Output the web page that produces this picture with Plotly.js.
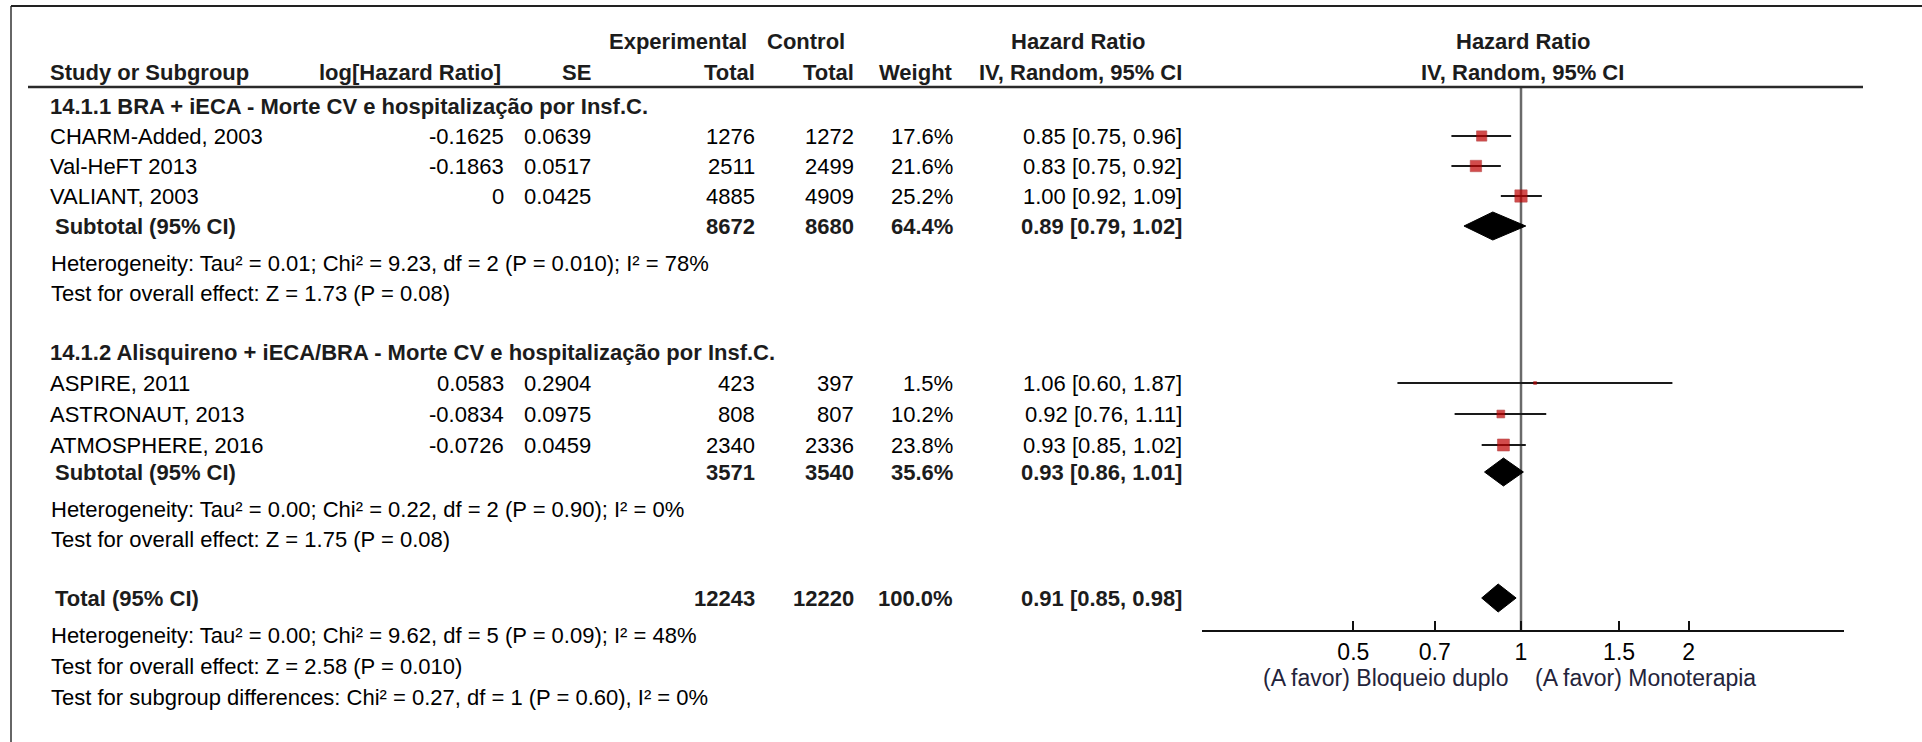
<!DOCTYPE html>
<html><head><meta charset="utf-8">
<script src="https://cdn.plot.ly/plotly-3.0.1.min.js"></script>
<style>html,body{margin:0;padding:0;background:#fff;overflow:hidden}#chart{width:1922px;height:742px}</style>
</head><body><div id="chart"></div>
<script>
// ---------------- DATA ----------------
const groupNames = [
  "14.1.1 BRA + iECA - Morte CV e hospitalização por Insf.C.",
  "14.1.2 Alisquireno + iECA/BRA - Morte CV e hospitalização por Insf.C."
];
const studies = ["CHARM-Added, 2003", "Val-HeFT 2013", "VALIANT, 2003", "ASPIRE, 2011", "ASTRONAUT, 2013", "ATMOSPHERE, 2016"];
const studyGroup = [0, 0, 0, 1, 1, 1];
const logHR = [-0.1625, -0.1863, 0, 0.0583, -0.0834, -0.0726];
const seLogHR = [0.0639, 0.0517, 0.0425, 0.2904, 0.0975, 0.0459];
const expTotal = [1276, 2511, 4885, 423, 808, 2340];
const ctrlTotal = [1272, 2499, 4909, 397, 807, 2336];
const weightPct = [17.6, 21.6, 25.2, 1.5, 10.2, 23.8];
const hazardRatio = [0.85, 0.83, 1.00, 1.06, 0.92, 0.93];
const ciLow = [0.75, 0.75, 0.92, 0.60, 0.76, 0.85];
const ciHigh = [0.96, 0.92, 1.09, 1.87, 1.11, 1.02];

const subExp = [8672, 3571];
const subCtrl = [8680, 3540];
const subWeight = [64.4, 35.6];
const subHR = [0.89, 0.93];
const subLow = [0.79, 0.86];
const subHigh = [1.02, 1.01];
const subHet = [
  "Heterogeneity: Tau² = 0.01; Chi² = 9.23, df = 2 (P = 0.010); I² = 78%",
  "Heterogeneity: Tau² = 0.00; Chi² = 0.22, df = 2 (P = 0.90); I² = 0%"
];
const subTest = [
  "Test for overall effect: Z = 1.73 (P = 0.08)",
  "Test for overall effect: Z = 1.75 (P = 0.08)"
];

const totalExp = 12243;
const totalCtrl = 12220;
const totalWeight = 100.0;
const totalHR = 0.91;
const totalLow = 0.85;
const totalHigh = 0.98;
const totalHet = "Heterogeneity: Tau² = 0.00; Chi² = 9.62, df = 5 (P = 0.09); I² = 48%";
const totalTest = "Test for overall effect: Z = 2.58 (P = 0.010)";
const subgroupTest = "Test for subgroup differences: Chi² = 0.27, df = 1 (P = 0.60), I² = 0%";

const tickValues = [0.5, 0.7, 1, 1.5, 2];
const tickLabels = ["0.5", "0.7", "1", "1.5", "2"];
const favourLeft = "(A favor) Bloqueio duplo";
const favourRight = "(A favor) Monoterapia";

// ---------------- LAYOUT / STYLE ----------------
const W = 1922, H = 742;
const FONT = "Liberation Sans, Arial, Helvetica, sans-serif";
const FS = 22;
const TXT = "#000000", BOLD = "#1c1c1c";
const COL = {name: 48, sub: 53, logHR: 506, logHRHead: 503, se: 593, exp: 757, ctrl: 856, weight: 955, ci: 1184, hrHead: 1078};
const HEAD1_Y = 41, HEAD2_Y = 72, RULE_Y = 87, AXIS_Y = 631;
const FIRST_GROUP_Y = 106, PITCH = 30, STAT_GAP = 37, BLOCK_GAP = 59;
const DIAMOND_HALF = 14;
const PLOT_X0 = 1201.5, PLOT_X1 = 1843.5;
const LOG_RANGE = [-0.5736, 0.5790];

const ann = [];
function txt(s, x, y, anchor, bold) {
  ann.push({text: bold ? "<b>" + s + "</b>" : s, x: x / W, xref: "paper", y: y, yref: "y",
    xanchor: anchor, yanchor: "middle", showarrow: false,
    font: {family: FONT, size: FS, color: bold ? BOLD : TXT}});
}
const fmtLog = v => v === 0 ? "0" : v.toFixed(4);
const fmtCI = (h, l, u) => h.toFixed(2) + " [" + l.toFixed(2) + ", " + u.toFixed(2) + "]";

// headers
txt("Experimental", 749, HEAD1_Y, "right", true);
txt("Control", 847, HEAD1_Y, "right", true);
txt("Hazard Ratio", COL.hrHead, HEAD1_Y, "center", true);
txt("Study or Subgroup", COL.name, HEAD2_Y, "left", true);
txt("log[Hazard Ratio]", COL.logHRHead, HEAD2_Y, "right", true);
txt("SE", COL.se, HEAD2_Y, "right", true);
txt("Total", COL.exp, HEAD2_Y, "right", true);
txt("Total", COL.ctrl, HEAD2_Y, "right", true);
txt("Weight", COL.weight, HEAD2_Y, "right", true);
txt("IV, Random, 95% CI", COL.ci, HEAD2_Y, "right", true);
ann.push({text: "<b>Hazard Ratio</b>", xref: "x domain", x: 0.5, y: HEAD1_Y, yref: "y", xanchor: "center", yanchor: "middle", showarrow: false, font: {family: FONT, size: FS, color: BOLD}});
ann.push({text: "<b>IV, Random, 95% CI</b>", xref: "x domain", x: 0.5, y: HEAD2_Y, yref: "y", xanchor: "center", yanchor: "middle", showarrow: false, font: {family: FONT, size: FS, color: BOLD}});

// rows
const studyY = new Array(studies.length);
const subY = [];
let cur = FIRST_GROUP_Y;
groupNames.forEach((g, gi) => {
  txt(g, COL.name, cur, "left", true);
  let y = cur;
  studies.forEach((s, i) => {
    if (studyGroup[i] !== gi) return;
    y += PITCH + (gi === 1 ? 1 : 0);
    studyY[i] = y;
    txt(s, COL.name, y, "left", false);
    txt(fmtLog(logHR[i]), COL.logHR, y, "right", false);
    txt(seLogHR[i].toFixed(4), COL.se, y, "right", false);
    txt(String(expTotal[i]), COL.exp, y, "right", false);
    txt(String(ctrlTotal[i]), COL.ctrl, y, "right", false);
    txt(weightPct[i].toFixed(1) + "%", COL.weight, y, "right", false);
    txt(fmtCI(hazardRatio[i], ciLow[i], ciHigh[i]), COL.ci, y, "right", false);
  });
  y += PITCH - (gi === 1 ? 3 : 0);
  subY[gi] = y;
  txt("Subtotal (95% CI)", COL.sub, y, "left", true);
  txt(String(subExp[gi]), COL.exp, y, "right", true);
  txt(String(subCtrl[gi]), COL.ctrl, y, "right", true);
  txt(subWeight[gi].toFixed(1) + "%", COL.weight, y, "right", true);
  txt(fmtCI(subHR[gi], subLow[gi], subHigh[gi]), COL.ci, y, "right", true);
  y += STAT_GAP;
  txt(subHet[gi], COL.name + 1, y, "left", false);
  y += PITCH;
  txt(subTest[gi], COL.name + 1, y, "left", false);
  cur = y + BLOCK_GAP;
});
const totalY = cur;
txt("Total (95% CI)", COL.sub, totalY, "left", true);
txt(String(totalExp), COL.exp, totalY, "right", true);
txt(String(totalCtrl), COL.ctrl, totalY, "right", true);
txt(totalWeight.toFixed(1) + "%", COL.weight, totalY, "right", true);
txt(fmtCI(totalHR, totalLow, totalHigh), COL.ci, totalY, "right", true);
txt(totalHet, COL.name + 1, totalY + STAT_GAP, "left", false);
txt(totalTest, COL.name + 1, totalY + STAT_GAP + PITCH + 1, "left", false);
txt(subgroupTest, COL.name + 1, totalY + STAT_GAP + 2 * (PITCH + 1), "left", false);

// favour labels tied to null line
const FAV_FONT = {family: FONT, size: 23, color: "#23233a"};
ann.push({text: favourLeft, xref: "x", x: 0, xshift: -10, y: 678, yref: "y", xanchor: "right", yanchor: "middle", showarrow: false, font: FAV_FONT});
ann.push({text: favourRight, xref: "x", x: 0, xshift: 12, y: 678, yref: "y", xanchor: "left", yanchor: "middle", showarrow: false, font: FAV_FONT});

// ---------------- TRACES ----------------
const ciX = [], ciY = [];
studies.forEach((s, i) => { ciX.push(ciLow[i], ciHigh[i], null); ciY.push(studyY[i], studyY[i], null); });
const traces = [];
traces.push({type: "scatter", mode: "lines", x: ciX, y: ciY, line: {color: "#1a1a1a", width: 2}, hoverinfo: "skip", showlegend: false});
traces.push({type: "scatter", mode: "markers", x: hazardRatio, y: studyY,
  marker: {symbol: "square", size: weightPct.map(w => 2.45 * Math.sqrt(w)), color: "#c00000", line: {color: "#9a0000", width: 0.6}},
  hoverinfo: "skip", showlegend: false});
function diamond(h, l, u, y) {
  traces.push({type: "scatter", mode: "lines", x: [l, h, u, h, l], y: [y, y - DIAMOND_HALF, y, y + DIAMOND_HALF, y],
    fill: "toself", fillcolor: "#000", line: {color: "#000", width: 1}, hoverinfo: "skip", showlegend: false});
}
subHR.forEach((h, gi) => diamond(h, subLow[gi], subHigh[gi], subY[gi]));
diamond(totalHR, totalLow, totalHigh, totalY);

// ---------------- SHAPES ----------------
const shapes = [
  {type: "line", xref: "paper", yref: "y", x0: 11 / W, x1: 11 / W, y0: 6, y1: H, line: {color: "#333", width: 1.5}},
  {type: "line", xref: "paper", yref: "y", x0: 11 / W, x1: 1, y0: 6, y1: 6, line: {color: "#222", width: 2}},
  {type: "line", xref: "paper", yref: "y", x0: 28 / W, x1: 1863 / W, y0: RULE_Y, y1: RULE_Y, line: {color: "#2a2a2a", width: 2.5}},
  {type: "line", xref: "x", yref: "y", x0: 1, x1: 1, y0: RULE_Y, y1: AXIS_Y, line: {color: "#6a6a6a", width: 2.5}, layer: "below"}
];

const layout = {
  width: W, height: H, margin: {l: 0, r: 0, t: 0, b: 0},
  paper_bgcolor: "#fff", plot_bgcolor: "rgba(0,0,0,0)", showlegend: false,
  font: {family: FONT, size: FS, color: TXT},
  xaxis: {type: "log", domain: [PLOT_X0 / W, PLOT_X1 / W], range: LOG_RANGE,
    anchor: "free", position: 1 - AXIS_Y / H, side: "bottom",
    showline: true, linecolor: "#111", linewidth: 2, mirror: false,
    ticks: "inside", ticklen: 9, tickwidth: 2, tickcolor: "#111",
    tickmode: "array", tickvals: tickValues, ticktext: tickLabels,
    tickfont: {family: FONT, size: 23, color: TXT},
    showgrid: false, zeroline: false, fixedrange: true},
  yaxis: {range: [H, 0], domain: [0, 1], visible: false, fixedrange: true, showgrid: false, zeroline: false},
  annotations: ann, shapes: shapes
};
Plotly.newPlot("chart", traces, layout, {displayModeBar: false, staticPlot: true});
</script></body></html>
